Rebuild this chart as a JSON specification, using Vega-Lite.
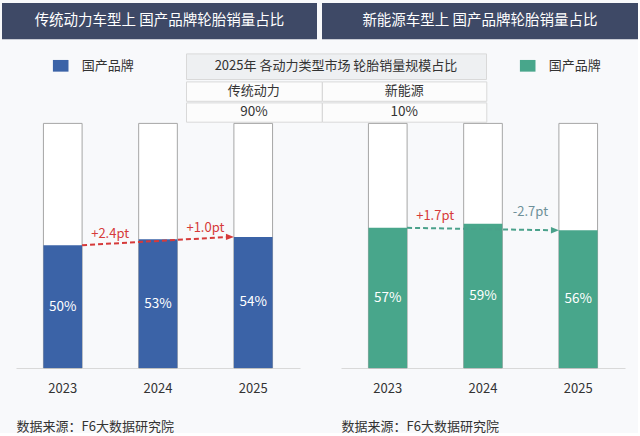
{
  "$schema": "https://vega.github.io/schema/vega-lite/v6.json",
  "background": "#f8f9fb",
  "padding": {"left": 2, "top": 3, "right": 0, "bottom": 0},
  "spacing": 12.4,
  "config": {
    "font": "Noto Sans CJK SC",
    "view": {"stroke": null},
    "text": {"font": "Noto Sans CJK SC"}
  },
  "datasets": {
    "headers": [
      {"panel": "传统动力", "title": "传统动力车型上 国产品牌轮胎销量占比"},
      {"panel": "新能源", "title": "新能源车型上 国产品牌轮胎销量占比"}
    ],
    "mix2025": [
      {"type": "传统动力", "share": 0.9},
      {"type": "新能源", "share": 0.1}
    ],
    "brand_share": [
      {"panel": "传统动力", "year": "2023", "brand": "国产品牌", "share": 0.502},
      {"panel": "传统动力", "year": "2024", "brand": "国产品牌", "share": 0.526},
      {"panel": "传统动力", "year": "2025", "brand": "国产品牌", "share": 0.536},
      {"panel": "新能源", "year": "2023", "brand": "国产品牌", "share": 0.573},
      {"panel": "新能源", "year": "2024", "brand": "国产品牌", "share": 0.590},
      {"panel": "新能源", "year": "2025", "brand": "国产品牌", "share": 0.563}
    ],
    "changes": [
      {"panel": "传统动力", "from": "2023", "to": "2024", "from_share": 0.502, "to_share": 0.526, "delta": "+2.4pt"},
      {"panel": "传统动力", "from": "2024", "to": "2025", "from_share": 0.526, "to_share": 0.536, "delta": "+1.0pt"},
      {"panel": "新能源", "from": "2023", "to": "2024", "from_share": 0.573, "to_share": 0.590, "delta": "+1.7pt"},
      {"panel": "新能源", "from": "2024", "to": "2025", "from_share": 0.590, "to_share": 0.563, "delta": "-2.7pt"}
    ],
    "trend": [
      {"panel": "传统动力", "from": "2023", "to": "2025", "from_share": 0.502, "to_share": 0.536},
      {"panel": "新能源", "from": "2023", "to": "2025", "from_share": 0.573, "to_share": 0.563}
    ]
  },
  "vconcat": [
    {
      "hconcat": [
        {
          "width": 315, "height": 36.3,
          "data": {"name": "headers"},
          "transform": [{"filter": "datum.panel === '传统动力'"}],
          "view": {"fill": "#3e4966", "stroke": null},
          "mark": {"type": "text", "color": "white", "fontSize": 14.5},
          "encoding": {"text": {"field": "title"}}
        },
        {
          "width": 316, "height": 36.3,
          "data": {"name": "headers"},
          "transform": [{"filter": "datum.panel === '新能源'"}],
          "view": {"fill": "#3e4966", "stroke": null},
          "mark": {"type": "text", "color": "white", "fontSize": 14.5},
          "encoding": {"text": {"field": "title"}}
        }
      ],
      "spacing": 5,
      "bounds": "flush"
    },
    {
      "vconcat": [
        {
          "hconcat": [
            {
              "width": 178, "height": 64.3,
              "data": {"values": []},
              "mark": "text",
              "encoding": {}
            },
            {
              "vconcat": [
                {
                  "width": 300, "height": 25.6,
                  "data": {"values": [{"caption": "2025年 各动力类型市场 轮胎销量规模占比"}]},
                  "view": {"fill": "#eef0f2", "stroke": "#d9d9d9"},
                  "mark": {"type": "text", "fontSize": 13, "color": "#333333"},
                  "encoding": {"text": {"field": "caption"}}
                },
                {
                  "hconcat": [
                    {
                      "width": 135.7, "height": 19.4,
                      "data": {"name": "mix2025"},
                      "transform": [{"filter": "datum.type === '传统动力'"}],
                      "view": {"fill": "#fcfcfc", "stroke": "#d9d9d9"},
                      "mark": {"type": "text", "fontSize": 13, "color": "#333333"},
                      "encoding": {"text": {"field": "type"}}
                    },
                    {
                      "width": 164.3, "height": 19.4,
                      "data": {"name": "mix2025"},
                      "transform": [{"filter": "datum.type === '新能源'"}],
                      "view": {"fill": "#fcfcfc", "stroke": "#d9d9d9"},
                      "mark": {"type": "text", "fontSize": 13, "color": "#333333"},
                      "encoding": {"text": {"field": "type"}}
                    }
                  ],
                  "spacing": 0,
                  "bounds": "flush"
                },
                {
                  "hconcat": [
                    {
                      "width": 135.7, "height": 19.3,
                      "data": {"name": "mix2025"},
                      "transform": [{"filter": "datum.type === '传统动力'"}],
                      "view": {"fill": "#fcfcfc", "stroke": "#d9d9d9"},
                      "mark": {"type": "text", "fontSize": 13.5, "color": "#333333"},
                      "encoding": {"text": {"field": "share", "format": ".0%"}}
                    },
                    {
                      "width": 164.3, "height": 19.3,
                      "data": {"name": "mix2025"},
                      "transform": [{"filter": "datum.type === '新能源'"}],
                      "view": {"fill": "#fcfcfc", "stroke": "#d9d9d9"},
                      "mark": {"type": "text", "fontSize": 13.5, "color": "#333333"},
                      "encoding": {"text": {"field": "share", "format": ".0%"}}
                    }
                  ],
                  "spacing": 0,
                  "bounds": "flush"
                }
              ],
              "spacing": 0
            }
          ],
          "spacing": 5
        },
        {
          "hconcat": [
            {
              "width": 298, "height": 244.6,
              "resolve": {"scale": {"y": "independent"}},
              "layer": [
                {
                  "data": {"name": "brand_share"},
                  "transform": [{"filter": "datum.panel === '传统动力'"}],
                  "mark": {"type": "bar", "fill": "white", "stroke": "#a6a6a6", "strokeWidth": 1},
                  "encoding": {
                    "x": {
                      "field": "year", "type": "ordinal",
                      "scale": {"type": "band", "range": [14, 298], "paddingInner": 0.594, "paddingOuter": 0.288},
                      "axis": {
                        "title": "数据来源：F6大数据研究院", "titleAnchor": "start", "titleAlign": "left",
                        "titleFontSize": 13, "titleFontWeight": "normal", "titleColor": "#333333", "titlePadding": 25,
                        "labelFontSize": 13, "labelColor": "#333333", "labelPadding": 14, "labelAngle": 0,
                        "ticks": false, "domainColor": "#d9d9d9", "domainWidth": 1
                      }
                    },
                    "y": {"datum": 1, "type": "quantitative", "scale": {"domain": [0, 1]}, "axis": null}
                  }
                },
                {
                  "data": {"name": "brand_share"},
                  "transform": [{"filter": "datum.panel === '传统动力'"}],
                  "mark": {"type": "bar"},
                  "encoding": {
                    "x": {"field": "year", "type": "ordinal"},
                    "y": {"field": "share", "type": "quantitative", "scale": {"domain": [0, 1]}, "axis": null},
                    "color": {
                      "field": "brand", "type": "nominal",
                      "scale": {"range": ["#3b63a7"]},
                      "legend": {
                        "orient": "none", "legendX": 50.7, "legendY": -65.6, "title": null, "padding": 0,
                        "symbolType": "M-1,-0.75H1V0.75H-1Z", "symbolSize": 243, "symbolStrokeWidth": 0,
                        "labelFontSize": 13, "labelColor": "#333333", "labelOffset": 13
                      }
                    }
                  }
                },
                {
                  "data": {"name": "brand_share"},
                  "transform": [{"filter": "datum.panel === '传统动力'"}],
                  "mark": {"type": "text", "color": "white", "fontSize": 13.5},
                  "encoding": {
                    "x": {"field": "year", "type": "ordinal"},
                    "y": {"field": "share", "type": "quantitative", "scale": {"domain": [0, 2]}, "axis": null},
                    "text": {"field": "share", "format": ".0%"}
                  }
                },
                {
                  "data": {"name": "trend"},
                  "transform": [{"filter": "datum.panel === '传统动力'"}],
                  "mark": {"type": "rule", "color": "#d63a3a", "strokeWidth": 2, "strokeDash": [5, 3], "xOffset": 19.3, "x2Offset": -23.3},
                  "encoding": {
                    "x": {"field": "from", "type": "ordinal"},
                    "x2": {"field": "to"},
                    "y": {"field": "from_share", "type": "quantitative", "scale": {"domain": [0, 1]}, "axis": null},
                    "y2": {"field": "to_share"}
                  }
                },
                {
                  "data": {"name": "trend"},
                  "transform": [{"filter": "datum.panel === '传统动力'"}],
                  "mark": {"type": "point", "shape": "M-1,-0.8L1,0L-1,0.8Z", "filled": true, "size": 64, "color": "#d63a3a", "opacity": 1, "xOffset": -23.3},
                  "encoding": {
                    "x": {"field": "to", "type": "ordinal"},
                    "y": {"field": "to_share", "type": "quantitative", "scale": {"domain": [0, 1]}, "axis": null}
                  }
                },
                {
                  "data": {"name": "changes"},
                  "transform": [{"filter": "datum.panel === '传统动力'"}],
                  "mark": {"type": "text", "fontSize": 13, "dx": 47.4, "dy": -11.5},
                  "encoding": {
                    "x": {"field": "from", "type": "ordinal"},
                    "y": {"field": "from_share", "type": "quantitative", "scale": {"domain": [0, 1]}, "axis": null},
                    "text": {"field": "delta"},
                    "color": {"condition": {"test": "indexof(datum.delta, '-') === 0", "value": "#6e9099"}, "value": "#d63a3a"}
                  }
                }
              ]
            },
            {
              "width": 284, "height": 244.6,
              "resolve": {"scale": {"y": "independent"}},
              "layer": [
                {
                  "data": {"name": "brand_share"},
                  "transform": [{"filter": "datum.panel === '新能源'"}],
                  "mark": {"type": "bar", "fill": "white", "stroke": "#a6a6a6", "strokeWidth": 1},
                  "encoding": {
                    "x": {
                      "field": "year", "type": "ordinal",
                      "scale": {"type": "band", "paddingInner": 0.594, "paddingOuter": 0.288},
                      "axis": {
                        "title": "数据来源：F6大数据研究院", "titleAnchor": "start", "titleAlign": "left",
                        "titleFontSize": 13, "titleFontWeight": "normal", "titleColor": "#333333", "titlePadding": 25,
                        "labelFontSize": 13, "labelColor": "#333333", "labelPadding": 14, "labelAngle": 0,
                        "ticks": false, "domainColor": "#d9d9d9", "domainWidth": 1
                      }
                    },
                    "y": {"datum": 1, "type": "quantitative", "scale": {"domain": [0, 1]}, "axis": null}
                  }
                },
                {
                  "data": {"name": "brand_share"},
                  "transform": [{"filter": "datum.panel === '新能源'"}],
                  "mark": {"type": "bar"},
                  "encoding": {
                    "x": {"field": "year", "type": "ordinal"},
                    "y": {"field": "share", "type": "quantitative", "scale": {"domain": [0, 1]}, "axis": null},
                    "color": {
                      "field": "brand", "type": "nominal",
                      "scale": {"range": ["#48a68b"]},
                      "legend": {
                        "orient": "none", "legendX": 178.7, "legendY": -65.6, "title": null, "padding": 0,
                        "symbolType": "M-1,-0.75H1V0.75H-1Z", "symbolSize": 243, "symbolStrokeWidth": 0,
                        "labelFontSize": 13, "labelColor": "#333333", "labelOffset": 13
                      }
                    }
                  }
                },
                {
                  "data": {"name": "brand_share"},
                  "transform": [{"filter": "datum.panel === '新能源'"}],
                  "mark": {"type": "text", "color": "white", "fontSize": 13.5},
                  "encoding": {
                    "x": {"field": "year", "type": "ordinal"},
                    "y": {"field": "share", "type": "quantitative", "scale": {"domain": [0, 2]}, "axis": null},
                    "text": {"field": "share", "format": ".0%"}
                  }
                },
                {
                  "data": {"name": "trend"},
                  "transform": [{"filter": "datum.panel === '新能源'"}],
                  "mark": {"type": "rule", "color": "#4aa18b", "strokeWidth": 2, "strokeDash": [5, 3], "xOffset": 19.3, "x2Offset": -23.3},
                  "encoding": {
                    "x": {"field": "from", "type": "ordinal"},
                    "x2": {"field": "to"},
                    "y": {"field": "from_share", "type": "quantitative", "scale": {"domain": [0, 1]}, "axis": null},
                    "y2": {"field": "to_share"}
                  }
                },
                {
                  "data": {"name": "trend"},
                  "transform": [{"filter": "datum.panel === '新能源'"}],
                  "mark": {"type": "point", "shape": "M-1,-0.8L1,0L-1,0.8Z", "filled": true, "size": 64, "color": "#4aa18b", "opacity": 1, "xOffset": -23.3},
                  "encoding": {
                    "x": {"field": "to", "type": "ordinal"},
                    "y": {"field": "to_share", "type": "quantitative", "scale": {"domain": [0, 1]}, "axis": null}
                  }
                },
                {
                  "data": {"name": "changes"},
                  "transform": [{"filter": "datum.panel === '新能源'"}],
                  "mark": {"type": "text", "fontSize": 13, "dx": 47.4, "dy": -11.5},
                  "encoding": {
                    "x": {"field": "from", "type": "ordinal"},
                    "y": {"field": "from_share", "type": "quantitative", "scale": {"domain": [0, 1]}, "axis": null},
                    "text": {"field": "delta"},
                    "color": {"condition": {"test": "indexof(datum.delta, '-') === 0", "value": "#6e9099"}, "value": "#d63a3a"}
                  }
                }
              ]
            }
          ],
          "spacing": 41,
          "bounds": "flush",
          "resolve": {"scale": {"color": "independent"}, "legend": {"color": "independent"}}
        }
      ],
      "spacing": -65
    }
  ]
}
